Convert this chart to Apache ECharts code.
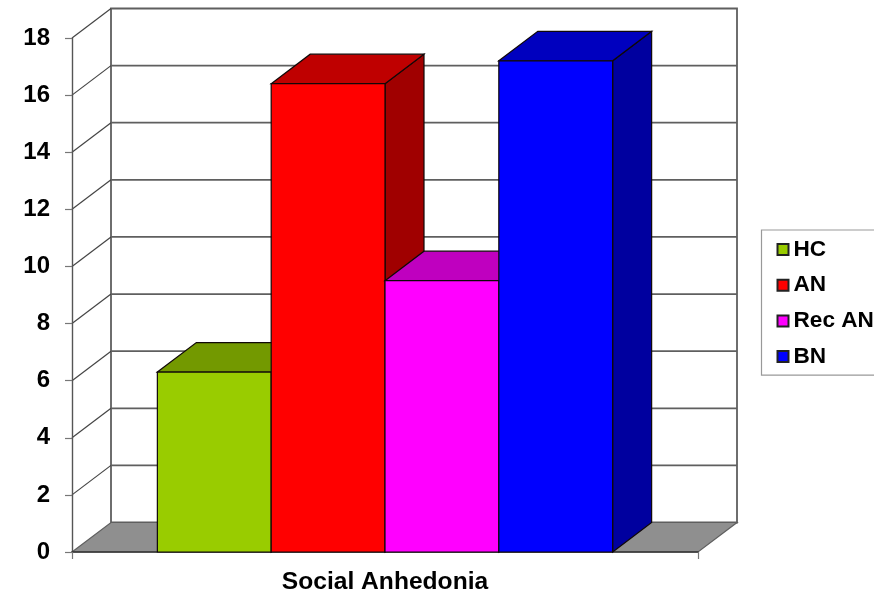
<!DOCTYPE html>
<html>
<head>
<meta charset="utf-8">
<style>html,body{margin:0;padding:0;background:#fff}#chart{width:874px;height:590px}</style>
<script src="https://cdn.jsdelivr.net/npm/echarts@6/dist/echarts.min.js"></script>
</head>
<body>
<div id="chart"></div>
<script>
// Social anhedonia scores per group, drawn as 3D-looking columns.
const categories = ['Social Anhedonia'];
const groups = ['HC', 'AN', 'Rec AN', 'BN'];
const scores = [6.3, 16.4, 9.5, 17.2];
const frontColors = ['#99CC00', '#FF0000', '#FF00FF', '#0000FF'];
const topColors = ['#739900', '#BF0000', '#BF00BF', '#0000BF'];
const sideColors = ['#5C7A00', '#A00000', '#A000A0', '#00009F'];
const yTicks = [0, 2, 4, 6, 8, 10, 12, 14, 16, 18];

// Oblique projection offset of the chart depth, and column spacing in bar widths.
const DEPTH_X = 39;
const DEPTH_Y = 29.5;
const GAP_BARS = 1.5;
const WALL_LINE = '#5f5f5f';
const FLOOR = '#8F8F8F';
const EDGE = '#100808';

const poly = (points, fill, stroke, lw) => ({
  type: 'polygon',
  shape: { points },
  style: { fill, stroke, lineWidth: lw }
});
const seg = (a, b, stroke, lw) => ({
  type: 'line',
  shape: { x1: a[0], y1: a[1], x2: b[0], y2: b[1] },
  style: { stroke, lineWidth: lw }
});

function renderFrame(params, api) {
  const c = params.coordSys;
  const l = c.x, r = c.x + c.width, t = c.y, b = c.y + c.height;
  const children = [
    poly([[l + DEPTH_X, t - DEPTH_Y], [r + DEPTH_X, t - DEPTH_Y], [r + DEPTH_X, b - DEPTH_Y], [l + DEPTH_X, b - DEPTH_Y]], '#fff', WALL_LINE, 1.8),
    poly([[l, b], [l + DEPTH_X, b - DEPTH_Y], [r + DEPTH_X, b - DEPTH_Y], [r, b]], FLOOR, WALL_LINE, 1.2)
  ];
  yTicks.forEach((v) => {
    const y = api.coord([0, v])[1];
    if (v > 0) {
      children.push(seg([l, y], [l + DEPTH_X, y - DEPTH_Y], '#444', 1.2));
      if (v < 18) children.push(seg([l + DEPTH_X, y - DEPTH_Y], [r + DEPTH_X, y - DEPTH_Y], WALL_LINE, 1.8));
    }
  });
  return { type: 'group', children };
}

function renderColumn(seriesIndex) {
  return function (params, api) {
    const base = api.coord([api.value(0), 0]);
    const top = api.coord([api.value(0), api.value(1)]);
    const band = api.size([1, 0])[0];
    const w = band / (groups.length + GAP_BARS);
    const x0 = base[0] - band / 2 + w * (GAP_BARS / 2 + seriesIndex);
    const x1 = x0 + w;
    const y0 = top[1], y1 = base[1];
    return {
      type: 'group',
      children: [
        poly([[x1, y0], [x1 + DEPTH_X, y0 - DEPTH_Y], [x1 + DEPTH_X, y1 - DEPTH_Y], [x1, y1]], sideColors[seriesIndex], EDGE, 1.2),
        poly([[x0, y0], [x0 + DEPTH_X, y0 - DEPTH_Y], [x1 + DEPTH_X, y0 - DEPTH_Y], [x1, y0]], topColors[seriesIndex], EDGE, 1.2),
        poly([[x0, y0], [x1, y0], [x1, y1], [x0, y1]], frontColors[seriesIndex], EDGE, 1.2)
      ]
    };
  };
}

const chart = echarts.init(document.getElementById('chart'), null, { renderer: 'canvas' });
const labelFont = { fontFamily: 'Liberation Sans', fontWeight: 'bold', color: '#000' };

chart.setOption({
  animation: false,
  backgroundColor: '#fff',
  grid: { left: 72, top: 38, width: 626, height: 514, containLabel: false, outerBoundsMode: 'none' },
  xAxis: {
    type: 'category',
    data: categories,
    z: 1,
    axisLine: { show: true, lineStyle: { color: '#333', width: 1.6 } },
    axisTick: { show: true, length: 7, lineStyle: { color: '#777', width: 1.2 } },
    axisLabel: Object.assign({ fontSize: 24.6, margin: 18 }, labelFont),
    splitLine: { show: false }
  },
  yAxis: {
    type: 'value',
    min: 0,
    max: 18,
    interval: 2,
    z: 1,
    axisLine: { show: true, lineStyle: { color: '#555', width: 1.4 } },
    axisTick: { show: true, length: 7, lineStyle: { color: '#777', width: 1.2 } },
    axisLabel: Object.assign({ fontSize: 24, margin: 22 }, labelFont),
    splitLine: { show: false }
  },
  legend: {
    data: groups,
    orient: 'vertical',
    left: 761.5,
    top: 230,
    width: 130,
    padding: [8, 14, 7, 15],
    itemWidth: 11,
    itemHeight: 11,
    itemGap: 12.7,
    icon: 'rect',
    selectedMode: false,
    backgroundColor: '#fff',
    borderColor: '#999',
    borderWidth: 1.2,
    textStyle: Object.assign({ fontSize: 22.6, padding: [0, 0, 0, 0] }, labelFont)
  },
  series: [
    {
      type: 'custom',
      name: 'frame',
      silent: true,
      z: 0,
      clip: false,
      renderItem: renderFrame,
      data: [[0, 0]]
    }
  ].concat(groups.map((g, i) => ({
    type: 'custom',
    name: g,
    z: 2 + i,
    clip: false,
    renderItem: renderColumn(i),
    itemStyle: { color: frontColors[i], borderColor: '#222', borderWidth: 1.2 },
    data: [[0, scores[i]]]
  })))
});
</script>
</body>
</html>
